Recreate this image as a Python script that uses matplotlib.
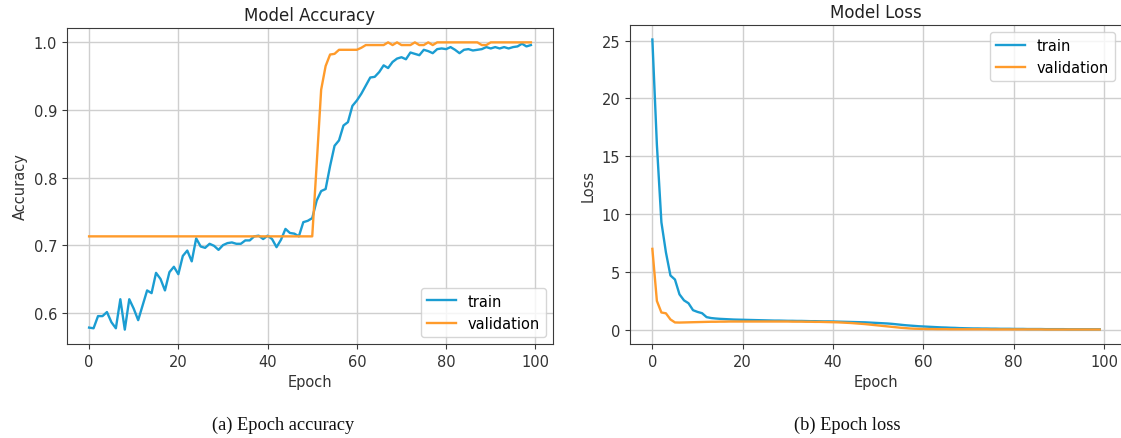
import numpy as np
import matplotlib
matplotlib.use("Agg")
import matplotlib.pyplot as plt

# --- data ---
epochs = np.arange(100)

train_acc = [
    0.578, 0.577, 0.595, 0.595, 0.601, 0.586, 0.577, 0.620, 0.575, 0.620,
    0.606, 0.589, 0.611, 0.633, 0.629, 0.659, 0.650, 0.633, 0.660, 0.668,
    0.657, 0.684, 0.692, 0.676, 0.710, 0.698, 0.696, 0.702, 0.699, 0.693,
    0.700, 0.703, 0.704, 0.702, 0.702, 0.707, 0.707, 0.713, 0.714, 0.709,
    0.714, 0.709, 0.697, 0.708, 0.724, 0.718, 0.717, 0.713, 0.734, 0.736,
    0.740, 0.766, 0.780, 0.783, 0.817, 0.847, 0.855, 0.877, 0.882, 0.906,
    0.914, 0.924, 0.936, 0.948, 0.949, 0.956, 0.966, 0.962, 0.971, 0.976,
    0.978, 0.975, 0.985, 0.983, 0.981, 0.989, 0.987, 0.984, 0.990, 0.991,
    0.990, 0.993, 0.989, 0.984, 0.989, 0.990, 0.988, 0.989, 0.990, 0.993,
    0.991, 0.993, 0.991, 0.993, 0.991, 0.993, 0.994, 0.998, 0.994, 0.996,
]

val_acc = [
    0.713, 0.713, 0.713, 0.713, 0.713, 0.713, 0.713, 0.713, 0.713, 0.713,
    0.713, 0.713, 0.713, 0.713, 0.713, 0.713, 0.713, 0.713, 0.713, 0.713,
    0.713, 0.713, 0.713, 0.713, 0.713, 0.713, 0.713, 0.713, 0.713, 0.713,
    0.713, 0.713, 0.713, 0.713, 0.713, 0.713, 0.713, 0.713, 0.713, 0.713,
    0.713, 0.713, 0.713, 0.713, 0.713, 0.713, 0.713, 0.713, 0.713, 0.713,
    0.713, 0.820, 0.930, 0.965, 0.982, 0.983, 0.989, 0.989, 0.989, 0.989,
    0.989, 0.992, 0.996, 0.996, 0.996, 0.996, 0.996, 1.000, 0.996, 1.000,
    0.996, 0.996, 0.996, 1.000, 0.996, 0.996, 1.000, 0.996, 1.000, 1.000,
    1.000, 1.000, 1.000, 1.000, 1.000, 1.000, 1.000, 1.000, 0.996, 0.996,
    1.000, 1.000, 1.000, 1.000, 1.000, 1.000, 1.000, 1.000, 1.000, 1.000,
]

train_loss = [
    25.1, 16.0, 9.3, 6.7, 4.7, 4.35, 3.07, 2.55, 2.3, 1.7,
    1.55, 1.44, 1.1, 1.02, 0.98, 0.95, 0.93, 0.91, 0.89, 0.88,
    0.87, 0.86, 0.85, 0.84, 0.83, 0.82, 0.81, 0.80, 0.80, 0.79,
    0.78, 0.78, 0.77, 0.77, 0.76, 0.75, 0.75, 0.74, 0.73, 0.73,
    0.72, 0.71, 0.70, 0.69, 0.68, 0.67, 0.66, 0.65, 0.63, 0.61,
    0.59, 0.57, 0.55, 0.52, 0.48, 0.44, 0.40, 0.37, 0.34, 0.31,
    0.29, 0.27, 0.25, 0.23, 0.21, 0.20, 0.18, 0.17, 0.15, 0.14,
    0.13, 0.12, 0.12, 0.11, 0.11, 0.10, 0.10, 0.09, 0.09, 0.09,
    0.08, 0.08, 0.08, 0.07, 0.07, 0.07, 0.07, 0.06, 0.06, 0.06,
    0.06, 0.06, 0.05, 0.05, 0.05, 0.05, 0.05, 0.05, 0.05, 0.05,
]

val_loss = [
    7.0, 2.5, 1.5, 1.43, 0.9, 0.64, 0.63, 0.64, 0.65, 0.66,
    0.67, 0.68, 0.69, 0.70, 0.70, 0.71, 0.71, 0.72, 0.72, 0.72,
    0.72, 0.72, 0.72, 0.72, 0.72, 0.72, 0.72, 0.72, 0.72, 0.72,
    0.72, 0.71, 0.71, 0.71, 0.70, 0.70, 0.69, 0.69, 0.68, 0.67,
    0.66, 0.65, 0.63, 0.61, 0.59, 0.56, 0.53, 0.50, 0.46, 0.42,
    0.38, 0.34, 0.30, 0.26, 0.22, 0.18, 0.15, 0.12, 0.10, 0.09,
    0.08, 0.07, 0.07, 0.06, 0.06, 0.06, 0.05, 0.05, 0.05, 0.05,
    0.05, 0.05, 0.05, 0.05, 0.05, 0.04, 0.04, 0.04, 0.04, 0.04,
    0.04, 0.04, 0.04, 0.04, 0.04, 0.04, 0.04, 0.03, 0.03, 0.03,
    0.03, 0.03, 0.03, 0.03, 0.03, 0.03, 0.03, 0.03, 0.03, 0.03,
]

BLUE = "#1b9dd2"
ORANGE = "#ff9b2b"
W, H = 1121, 439

plt.rcParams["font.family"] = ["DejaVu Sans"]
plt.rcParams["axes.edgecolor"] = "#3a3a3a"
plt.rcParams["xtick.color"] = "#3a3a3a"
plt.rcParams["ytick.color"] = "#3a3a3a"
plt.rcParams["xtick.labelcolor"] = "#333333"
plt.rcParams["ytick.labelcolor"] = "#333333"

fig = plt.figure(figsize=(W / 100, H / 100), dpi=100)


def px_axes(x0, y0, x1, y1):
    # axes from pixel box (top-left origin)
    return fig.add_axes([x0 / W, 1 - y1 / H, (x1 - x0) / W, (y1 - y0) / H])


def style(ax, title, ylabel):
    ax.set_title(title, fontsize=12, color="#222222", pad=6)
    ax.set_xlabel("Epoch", fontsize=10.5, color="#333333")
    ax.set_ylabel(ylabel, fontsize=10.5, color="#333333")
    ax.tick_params(labelsize=10.5)
    ax.grid(True, color="#cfcfcf", linewidth=1.0)
    ax.set_axisbelow(True)


# --- (a) accuracy ---
ax1 = px_axes(67, 29, 553, 345)
ax1.plot(epochs, train_acc, color=BLUE, lw=1.7, label="train")
ax1.plot(epochs, val_acc, color=ORANGE, lw=1.7, label="validation")
ax1.set_yticks([0.6, 0.7, 0.8, 0.9, 1.0])
style(ax1, "Model Accuracy", "Accuracy")
ax1.legend(loc="lower right", fontsize=10.5)

# --- (b) loss ---
ax2 = px_axes(630, 26, 1122, 345)
ax2.plot(epochs, train_loss, color=BLUE, lw=1.7, label="train")
ax2.plot(epochs, val_loss, color=ORANGE, lw=1.7, label="validation")
style(ax2, "Model Loss", "Loss")
ax2.legend(loc="upper right", fontsize=10.5)

# captions
fig.text(283 / W, 1 - 425 / H, "(a) Epoch accuracy", family="Liberation Serif",
         fontsize=13.2, ha="center", va="center", color="#111111")
fig.text(847 / W, 1 - 425 / H, "(b) Epoch loss", family="Liberation Serif",
         fontsize=13.2, ha="center", va="center", color="#111111")

fig.savefig("out.png", dpi=100)
